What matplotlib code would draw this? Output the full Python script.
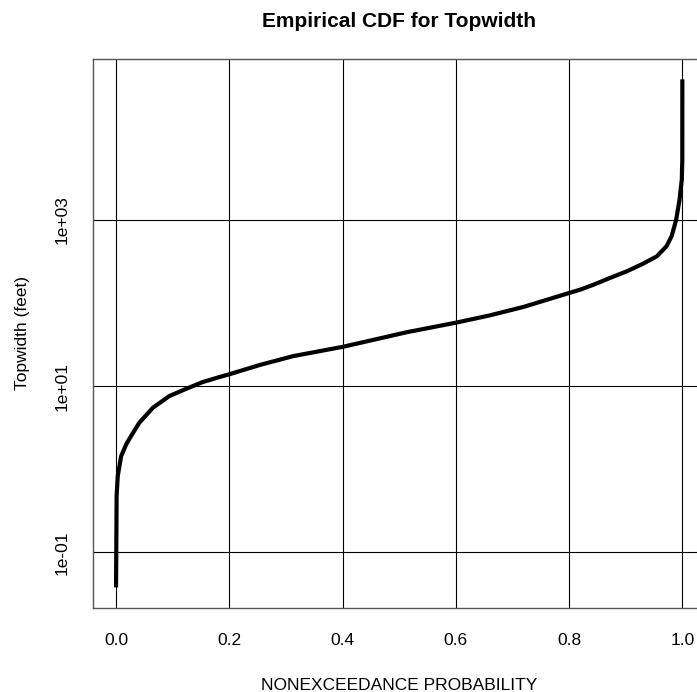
import numpy as np
import matplotlib.pyplot as plt

plt.rcParams['font.family'] = ['Liberation Sans', 'DejaVu Sans']

# nonexceedance probability and topwidth (feet)
prob = [0.0, 0.001, 0.003, 0.009, 0.018, 0.0236, 0.041, 0.065, 0.094, 0.124,
        0.153, 0.183, 0.2, 0.254, 0.313, 0.4, 0.454, 0.513, 0.6, 0.66,
        0.72, 0.8, 0.82, 0.843, 0.872, 0.902, 0.931, 0.955, 0.972, 0.981,
        0.989, 0.995, 0.999, 0.9999, 1.0]
topwidth = [0.038, 0.48, 0.83, 1.44, 2.0, 2.33, 3.63, 5.5, 7.6, 9.3,
            11.2, 12.9, 13.9, 18.0, 23.0, 29.7, 36.0, 44.5, 58.0, 71.0,
            90.0, 132.0, 145.0, 166.0, 200.0, 241.0, 298.0, 365.0, 482.0, 635.0,
            1000.0, 1750.0, 3050.0, 5300.0, 49000.0]

xticks = [0.0, 0.2, 0.4, 0.6, 0.8, 1.0]
yticks = [1e-1, 1e1, 1e3]
ylabels = ["1e-01", "1e+01", "1e+03"]

fig = plt.figure(figsize=(6.97, 6.92), dpi=100)
ax = fig.add_axes([0.134, 0.1218, 0.8775, 0.7929])

ax.plot(prob, topwidth, color="black", lw=3, solid_capstyle="butt",
        solid_joinstyle="round", zorder=3)
ax.set_yscale("log")
ax.margins(x=0.04, y=0.04)

for xv in xticks:
    ax.axvline(xv, color="black", lw=0.8, zorder=1)
for yv in yticks:
    ax.axhline(yv, color="black", lw=0.8, zorder=1)

ax.set_xticks(xticks)
ax.set_xticklabels(["%.1f" % v for v in xticks])
ax.set_yticks(yticks)
ax.set_yticklabels(ylabels, rotation=90, va="center")
ax.yaxis.set_minor_locator(plt.NullLocator())
ax.tick_params(axis="both", length=0, labelsize=12.5)
ax.tick_params(axis="x", pad=18)
ax.tick_params(axis="y", pad=17)

for s in ax.spines.values():
    s.set_color("#555555")
    s.set_linewidth(1.0)

ax.set_xlabel("NONEXCEEDANCE PROBABILITY", fontsize=12.5, labelpad=22)
ax.set_ylabel("Topwidth (feet)", fontsize=12.5, labelpad=18)
ax.set_title("Empirical CDF for Topwidth", fontsize=15, fontweight="bold",
             pad=23)

fig.savefig("out.png", dpi=100)
